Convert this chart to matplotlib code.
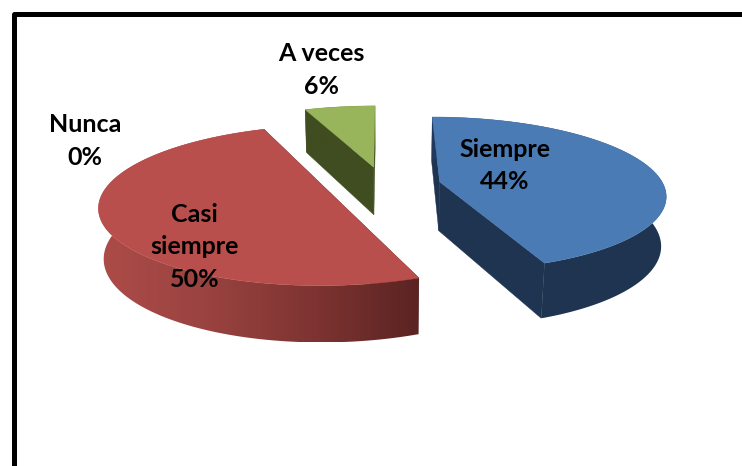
import numpy as np
import matplotlib
matplotlib.use("Agg")
import matplotlib.pyplot as plt
from matplotlib.colors import LinearSegmentedColormap
from matplotlib.patches import Polygon

#################### DATA ####################
categories = ["Siempre", "Casi\nsiempre", "Nunca", "A veces"]
percent = [44, 50, 0, 6]

#################### STYLE ####################
top_colors = ["#4A7BB5", "#B84F4C", "#4A7BB5", "#98B55B"]
wall_ramps = [
    ["#233A5C", "#1F3450", "#1F3450", "#1F3450"],
    ["#AD4C49", "#9A4340", "#7E3432", "#5A2422"],
    ["#1F3450", "#1F3450"],
    ["#404D20", "#404D20"],
]
face_colors = ["#1F3450", "#5A2422", "#1F3450", "#404D20"]
label_xy = [(505, 165.5), (194.5, 247), (85, 141), (321.5, 70)]

# projection of the pie, in pixels
cx, cy = 384, 185.5
rx, ry = 224, 76
depth = 50
explode = 0.255
persp_y = 0.155
persp_z = 0.018


def project(x, y, z=0.0):
    f = 1.0 / (1.0 + persp_y * y + persp_z * z)
    return cx + x * rx * f, cy - y * ry * f + z * depth * f


def slice_points(start, end):
    # start, end in degrees clockwise from the top
    mid = np.radians((start + end) / 2)
    ox, oy = explode * np.sin(mid), explode * np.cos(mid)
    th = np.radians(np.linspace(start, end, 120))
    return ox, oy, ox + np.sin(th), oy + np.cos(th)


def gradient_fill(ax, verts, ramp, order):
    verts = np.asarray(verts)
    cmap = LinearSegmentedColormap.from_list("wall", ramp)
    x0, x1 = verts[:, 0].min(), verts[:, 0].max()
    y0, y1 = verts[:, 1].min(), verts[:, 1].max()
    im = ax.imshow(
        np.linspace(0, 1, 256)[None, :],
        cmap=cmap,
        extent=(x0, x1, y1, y0),
        aspect="auto",
        zorder=order,
        interpolation="bilinear",
    )
    poly = Polygon(verts, closed=True, transform=ax.transData, fc="none", ec="none")
    ax.add_patch(poly)
    im.set_clip_path(poly)


fig = plt.figure(figsize=(7.42, 4.66), dpi=100)
ax = fig.add_axes([0, 0, 1, 1])

edges = np.cumsum([0] + percent) * 3.6
# back to front: A veces, Siempre, Casi siempre
for order, i in enumerate([3, 0, 1], start=2):
    ox, oy, xs, ys = slice_points(edges[i], edges[i + 1])

    top = np.column_stack(project(xs, ys))
    bottom = np.column_stack(project(xs, ys, 1.0))
    apex_t = project(ox, oy)
    apex_b = project(ox, oy, 1.0)

    # cut faces first, the outer wall and the top cover whatever is hidden
    for k in [0, -1]:
        face = [apex_t, top[k], bottom[k], apex_b]
        ax.add_patch(Polygon(face, closed=True, fc=face_colors[i], ec=face_colors[i], lw=0.3, zorder=order))
    gradient_fill(ax, np.vstack([top, bottom[::-1]]), wall_ramps[i], order + 0.1)
    ax.add_patch(
        Polygon(np.vstack([[apex_t], top]), closed=True, fc=top_colors[i], ec=top_colors[i], lw=0.3, zorder=order + 0.2)
    )

for name, val, (tx, ty) in zip(categories, percent, label_xy):
    ax.text(
        tx, ty, f"{name}\n{val}%",
        ha="center", va="center", family="Lato", weight="bold",
        fontsize=18, linespacing=1.52, color="black", zorder=10,
    )

# frame of the pasted picture, right and bottom sides are cut off
ax.plot([14.2, 14.2, 742], [466, 13.5, 13.5], color="black", lw=3.6, solid_joinstyle="round", zorder=11)

ax.set_xlim(0, 742)
ax.set_ylim(466, 0)
ax.axis("off")

fig.savefig("out.png", dpi=100)
